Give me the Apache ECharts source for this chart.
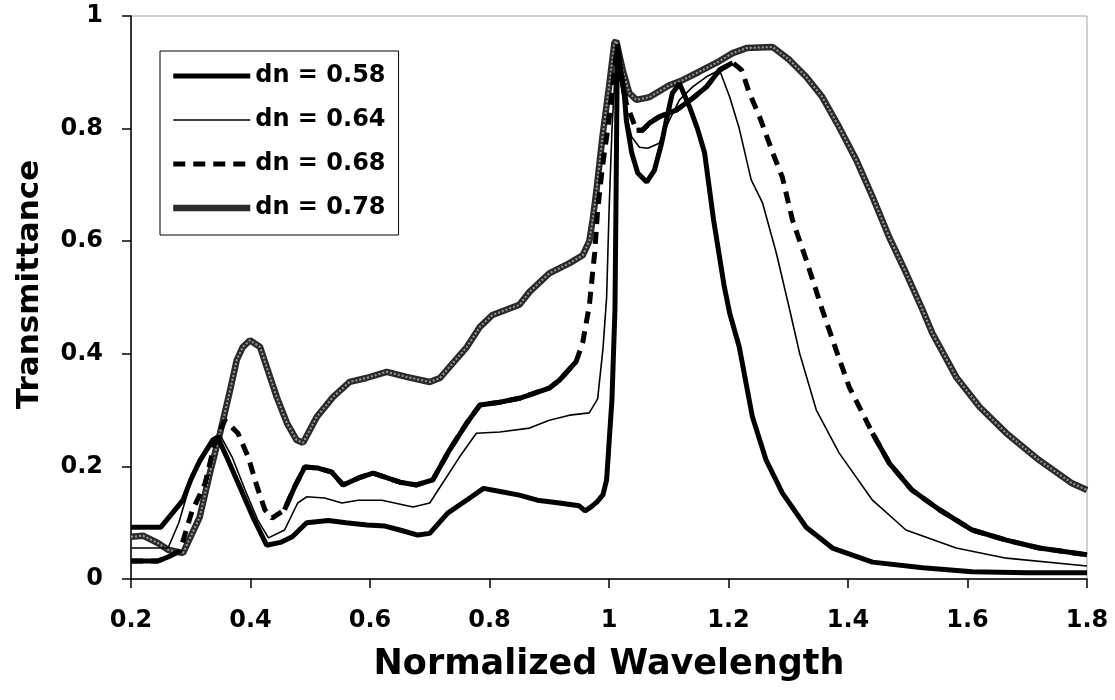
<!DOCTYPE html>
<html>
<head>
<meta charset="utf-8">
<script src="https://cdn.jsdelivr.net/npm/echarts@6/dist/echarts.min.js"></script>
<style>
html,body{margin:0;padding:0;background:#fff;}
#chart{width:1115px;height:700px;}
</style>
</head>
<body>
<div id="chart"></div>
<script>
// ---- data ----
const seriesNames = ['dn = 0.58', 'dn = 0.64', 'dn = 0.68', 'dn = 0.78'];
const xTicks = [0.2, 0.4, 0.6, 0.8, 1.0, 1.2, 1.4, 1.6, 1.8];
const yTicks = [0, 0.2, 0.4, 0.6, 0.8, 1];

const wl58 = [0.2, 0.25, 0.26, 0.287, 0.30, 0.315, 0.337, 0.345, 0.36, 0.382, 0.404, 0.427, 0.45, 0.47, 0.494, 0.53, 0.56, 0.595, 0.625, 0.65, 0.68, 0.70, 0.73, 0.77, 0.79, 0.82, 0.85, 0.88, 0.917, 0.95, 0.96, 0.97, 0.98, 0.99, 0.996, 1.0, 1.005, 1.010, 1.012, 1.014, 1.020, 1.026, 1.029, 1.038, 1.048, 1.063, 1.076, 1.088, 1.096, 1.106, 1.118, 1.135, 1.148, 1.16, 1.175, 1.193, 1.202, 1.218, 1.24, 1.263, 1.29, 1.33, 1.374, 1.441, 1.525, 1.608, 1.7, 1.8];
const t58 = [0.092, 0.092, 0.105, 0.14, 0.176, 0.21, 0.247, 0.252, 0.217, 0.164, 0.11, 0.06, 0.065, 0.075, 0.1, 0.104, 0.1, 0.096, 0.094, 0.087, 0.078, 0.081, 0.117, 0.146, 0.161, 0.155, 0.149, 0.14, 0.135, 0.13, 0.121, 0.128, 0.137, 0.15, 0.176, 0.24, 0.32, 0.48, 0.70, 0.95, 0.90, 0.856, 0.815, 0.757, 0.721, 0.705, 0.726, 0.774, 0.815, 0.863, 0.88, 0.838, 0.80, 0.757, 0.638, 0.519, 0.472, 0.412, 0.288, 0.211, 0.153, 0.092, 0.055, 0.03, 0.02, 0.013, 0.011, 0.011];

const wl64 = [0.2, 0.262, 0.28, 0.302, 0.329, 0.349, 0.369, 0.391, 0.412, 0.43, 0.457, 0.479, 0.494, 0.524, 0.553, 0.58, 0.62, 0.672, 0.70, 0.75, 0.778, 0.817, 0.867, 0.90, 0.934, 0.967, 0.981, 0.99, 0.996, 1.0, 1.005, 1.012, 1.02, 1.03, 1.038, 1.051, 1.065, 1.084, 1.101, 1.118, 1.14, 1.163, 1.185, 1.202, 1.218, 1.238, 1.257, 1.28, 1.302, 1.319, 1.347, 1.385, 1.441, 1.497, 1.581, 1.665, 1.8];
const t64 = [0.055, 0.055, 0.1, 0.18, 0.229, 0.256, 0.217, 0.158, 0.105, 0.073, 0.087, 0.135, 0.146, 0.144, 0.135, 0.14, 0.14, 0.128, 0.135, 0.217, 0.259, 0.261, 0.268, 0.282, 0.291, 0.295, 0.32, 0.41, 0.5, 0.65, 0.8, 0.93, 0.88, 0.82, 0.785, 0.767, 0.765, 0.774, 0.815, 0.851, 0.874, 0.892, 0.904, 0.856, 0.80, 0.709, 0.668, 0.579, 0.48, 0.401, 0.30, 0.224, 0.14, 0.087, 0.055, 0.037, 0.023];

const wl68 = [0.2, 0.245, 0.262, 0.282, 0.302, 0.324, 0.34, 0.357, 0.379, 0.396, 0.411, 0.424, 0.436, 0.457, 0.474, 0.491, 0.513, 0.536, 0.555, 0.58, 0.605, 0.65, 0.678, 0.705, 0.733, 0.762, 0.784, 0.817, 0.85, 0.90, 0.917, 0.945, 0.956, 0.967, 0.976, 0.981, 0.989, 1.0, 1.009, 1.013, 1.02, 1.029, 1.046, 1.056, 1.068, 1.084, 1.113, 1.14, 1.163, 1.185, 1.207, 1.222, 1.235, 1.252, 1.274, 1.29, 1.307, 1.33, 1.357, 1.38, 1.402, 1.424, 1.441, 1.469, 1.507, 1.553, 1.608, 1.665, 1.72, 1.8];
const t68 = [0.032, 0.032, 0.039, 0.05, 0.12, 0.17, 0.241, 0.282, 0.259, 0.217, 0.164, 0.123, 0.108, 0.123, 0.164, 0.199, 0.197, 0.19, 0.167, 0.179, 0.188, 0.172, 0.167, 0.176, 0.229, 0.277, 0.309, 0.314, 0.321, 0.339, 0.353, 0.386, 0.42, 0.485, 0.579, 0.655, 0.732, 0.815, 0.904, 0.94, 0.90, 0.845, 0.797, 0.797, 0.81, 0.821, 0.833, 0.854, 0.874, 0.904, 0.917, 0.904, 0.863, 0.821, 0.757, 0.714, 0.638, 0.567, 0.478, 0.407, 0.341, 0.295, 0.259, 0.206, 0.158, 0.123, 0.087, 0.069, 0.055, 0.043];

const wl78 = [0.2, 0.22, 0.245, 0.262, 0.287, 0.302, 0.315, 0.332, 0.349, 0.366, 0.377, 0.387, 0.399, 0.416, 0.427, 0.444, 0.461, 0.477, 0.488, 0.511, 0.538, 0.566, 0.594, 0.628, 0.661, 0.70, 0.717, 0.739, 0.762, 0.784, 0.805, 0.85, 0.867, 0.90, 0.934, 0.956, 0.967, 0.973, 0.979, 0.989, 1.0, 1.009, 1.012, 1.023, 1.034, 1.046, 1.068, 1.101, 1.123, 1.151, 1.18, 1.207, 1.23, 1.274, 1.302, 1.33, 1.357, 1.385, 1.414, 1.441, 1.469, 1.497, 1.524, 1.541, 1.581, 1.62, 1.665, 1.72, 1.775, 1.8];
const t78 = [0.075, 0.077, 0.064, 0.052, 0.046, 0.08, 0.11, 0.188, 0.259, 0.336, 0.389, 0.412, 0.424, 0.412, 0.377, 0.323, 0.277, 0.247, 0.242, 0.288, 0.323, 0.35, 0.357, 0.368, 0.359, 0.35, 0.357, 0.384, 0.412, 0.448, 0.469, 0.487, 0.51, 0.543, 0.561, 0.575, 0.6, 0.64, 0.69, 0.785, 0.874, 0.952, 0.956, 0.904, 0.863, 0.851, 0.856, 0.877, 0.886, 0.901, 0.917, 0.934, 0.943, 0.945, 0.922, 0.892, 0.856, 0.803, 0.744, 0.679, 0.607, 0.544, 0.48, 0.437, 0.359, 0.306, 0.259, 0.211, 0.17, 0.158];

// wavelength ranges where the dashed dn = 0.68 trace looks solid (dense points)
const solid68Ranges = [[0.2, 0.29], [0.45, 0.95], [1.03, 1.22], [1.44, 1.8]];

function pairs(xs, ys) { return xs.map((x, i) => [x, ys[i]]); }
function masked(xs, ys, ranges) {
  return xs.map((x, i) => ranges.some(r => x >= r[0] - 1e-9 && x <= r[1] + 1e-9) ? [x, ys[i]] : [x, null]);
}

const FONT = '"DejaVu Sans", Arial, sans-serif';
const chart = echarts.init(document.getElementById('chart'), null, {renderer: 'canvas'});

const option = {
  animation: false,
  backgroundColor: '#fff',
  grid: {left: 131, right: 28, top: 16, bottom: 121, show: true, borderColor: '#a0a0a0', borderWidth: 1, backgroundColor: 'transparent'},
  legend: {
    data: seriesNames,
    orient: 'vertical',
    left: 160, top: 51,
    padding: [11, 13, 13, 10],
    backgroundColor: '#fff',
    borderColor: '#000', borderWidth: 1,
    itemWidth: 77, itemHeight: 28, itemGap: 16,
    itemStyle: {opacity: 0},
    lineStyle: {width: 'inherit', type: 'inherit', color: 'inherit'},
    textStyle: {fontFamily: FONT, fontWeight: 'bold', fontSize: 24, color: '#000', lineHeight: 28},
    selectedMode: false
  },
  xAxis: {
    type: 'value', min: xTicks[0], max: xTicks[xTicks.length - 1], interval: 0.2,
    name: 'Normalized Wavelength', nameLocation: 'middle', nameGap: 68,
    nameTextStyle: {fontFamily: FONT, fontWeight: 'bold', fontSize: 35, color: '#000'},
    axisLine: {show: true, onZero: false, lineStyle: {color: '#000', width: 1.5}},
    axisTick: {show: true, inside: false, length: 9, lineStyle: {color: '#000', width: 1.5}},
    axisLabel: {margin: 30, fontFamily: FONT, fontWeight: 'bold', fontSize: 24, color: '#000',
      formatter: v => { const t = xTicks.find(k => Math.abs(k - v) < 1e-6); return t === undefined ? '' : String(t); }},
    splitLine: {show: false}
  },
  yAxis: {
    type: 'value', min: yTicks[0], max: yTicks[yTicks.length - 1], interval: 0.2,
    name: 'Transmittance', nameLocation: 'middle', nameGap: 86, nameRotate: 90,
    nameTextStyle: {fontFamily: FONT, fontWeight: 'bold', fontSize: 31, color: '#000', padding: [0, 0, 0, 26]},
    axisLine: {show: true, onZero: false, lineStyle: {color: '#000', width: 1.5}},
    axisTick: {show: true, inside: false, length: 9, lineStyle: {color: '#000', width: 1.5}},
    axisLabel: {margin: 28, fontFamily: FONT, fontWeight: 'bold', fontSize: 24, color: '#000',
      formatter: v => { const t = yTicks.find(k => Math.abs(k - v) < 1e-6); return t === undefined ? '' : String(t); }},
    splitLine: {show: false}
  },
  series: [
    {name: seriesNames[0], type: 'line', data: pairs(wl58, t58), symbol: 'none', z: 5,
      lineStyle: {color: '#000', width: 5}, itemStyle: {color: '#000'}},
    {name: seriesNames[1], type: 'line', data: pairs(wl64, t64), symbol: 'none', z: 4,
      lineStyle: {color: '#000', width: 1.6}, itemStyle: {color: '#000'}},
    {name: seriesNames[2], type: 'line', data: pairs(wl68, t68), symbol: 'none', z: 3,
      lineStyle: {color: '#000', width: 5, type: [12, 8], cap: 'butt'}, itemStyle: {color: '#000'}},
    {name: seriesNames[2], type: 'line', data: masked(wl68, t68, solid68Ranges), symbol: 'none', z: 3, connectNulls: false,
      lineStyle: {color: '#000', width: 5}, itemStyle: {color: '#000'}},
    {name: seriesNames[3], type: 'line', data: pairs(wl78, t78), symbol: 'none', z: 2,
      lineStyle: {color: '#2a2a2a', width: 6.5}, itemStyle: {color: '#2a2a2a'}},
    {name: seriesNames[3], type: 'line', data: pairs(wl78, t78), symbol: 'none', z: 2,
      lineStyle: {color: '#9a9a9a', width: 2, type: [2, 2]}, itemStyle: {color: '#9a9a9a'}}
  ]
};
chart.setOption(option);
</script>
</body>
</html>
